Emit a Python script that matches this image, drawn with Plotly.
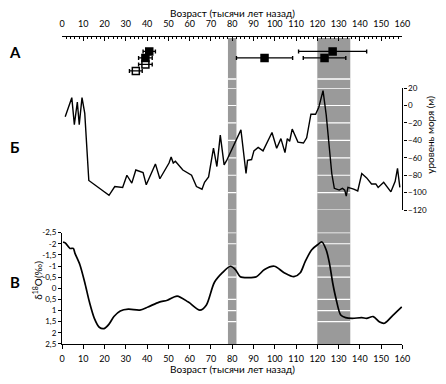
import plotly.graph_objects as go

# ---- data ----
ticks_age = list(range(0, 161, 10))

# Panel A: dated samples (age, half error, row, filled?)
a_age = [41.0, 127.2, 39.2, 95.2, 123.4, 39.2, 34.7]
a_err = [2.9, 16.0, 3.2, 13.2, 10.0, 3.2, 3.0]
a_row = [1, 1, 2, 2, 2, 3, 4]
a_filled = [True, True, True, True, True, False, False]

# Panel B: sea level (m)
sea_age = [1.5, 4.6, 5.8, 7.2, 8.1, 9.4, 10.7, 12.6, 22.1, 24.8, 28.5, 30.5, 32.8, 34.7, 38.1, 39.6,
           43.9, 46, 50.3, 51.3, 52.3, 53.3, 56.8, 60.9, 63.2, 65.8, 67, 68.9, 71.2, 72.8, 74.4, 76.2,
           77.4, 84.1, 86.5, 87.2, 89.1, 90.2, 92.2, 94.5, 98.7, 100.9, 102.9, 104.8, 105.9, 107, 108.2, 110.9,
           113.5, 115, 117, 119.2, 120.7, 122.7, 124.2, 125.7, 126.8, 128, 130.3, 131.8, 132.9, 133.6, 134.4, 137.1,
           139, 140.9, 143.2, 145.5, 147.5, 148.6, 151.2, 154.6, 156.6, 157.7, 158.8]
sea_level = [-13, 9, -22, 4, -22, 9, -9, -86, -103, -93, -94, -80, -89, -74, -77, -91,
             -67, -84, -66, -59, -66, -64, -74, -80, -93, -96, -88, -82, -49, -70, -34, -68,
             -63, -28, -78, -63, -62, -52, -48, -52, -31, -49, -38, -54, -38, -41, -27, -42,
             -43, -37, -10, -10, -2, 17, -11, -49, -78, -95, -97, -95, -97, -104, -94, -96,
             -98, -78, -83, -90, -90, -94, -88, -99, -87, -72, -94]
sea_ticks = list(range(-120, 21, 20))

# Panel V: delta 18O (permil)
d_age = [0.5, 1.5, 3.8, 5.3, 6.1, 8.4, 10.7, 12.9, 15.2, 17.5, 19.8, 22.1, 24.4, 27.4, 31.2, 36.6,
         40.4, 45.7, 49.5, 54.1, 59.4, 64.8, 67.8, 71.6, 75.4, 79.2, 81.5, 83.8, 87.6, 91.4, 95.2, 99.8,
         104.4, 109, 112, 114.3, 117.3, 120.4, 122.2, 124.2, 125.7, 127.2, 128.8, 131, 133.3, 136.4, 140.9, 143.2,
         146.3, 149.3, 151.6, 155.4, 159.7]
d_val = [-2.08, -2.04, -1.79, -1.79, -1.57, -1.06, -0.26, 0.62, 1.35, 1.75, 1.81, 1.61, 1.27, 1.02, 0.94, 0.98,
         0.84, 0.62, 0.54, 0.35, 0.62, 0.98, 0.76, -0.26, -0.7, -0.99, -0.84, -0.52, -0.48, -0.52, -0.84, -0.99,
         -0.7, -0.52, -0.7, -1.2, -1.72, -1.98, -2.08, -1.72, -1.13, -0.26, 0.47, 1.2, 1.32, 1.35, 1.32, 1.35,
         1.27, 1.52, 1.57, 1.23, 0.84]
d_tickvals = [-2.5, -2, -1.5, -1, -0.5, 0, 0.5, 1, 1.5, 2, 2.5]
d_ticktext = ["-2,5", "-2", "-1,5", "-1", "-0,5", "0", "0,5", "1", "1,5", "2", "2,5"]

# Shaded interglacial bands (ka)
bands = [(78, 82), (120, 135.5)]
sea_band_lines = [20, 0, -20, -40, -60, -80, -100, -120]
d_band_lines = [-2.5, -2, -1, -0.5, 0.5, 1, 1.5]

# ---- layout helpers ----
W, H = 446, 384
def px(yp):
    return 1 - yp / H
xdom = [60.5 / W, 409.5 / W]
FONT = "Lato, Open Sans, sans-serif"

fig = go.Figure()

# Panel A
for filled in (True, False):
    idx = [i for i in range(len(a_age)) if a_filled[i] == filled]
    fig.add_trace(go.Scatter(
        x=[a_age[i] for i in idx], y=[a_row[i] for i in idx],
        error_x=dict(type="data", array=[a_err[i] for i in idx], color="black", thickness=1.4, width=2),
        mode="markers",
        marker=dict(symbol="square" if filled else "square-open", size=7, color="black",
                    line=dict(width=1.5, color="black")),
        xaxis="x2", yaxis="y", showlegend=False, hoverinfo="skip"))

# Panel B
fig.add_trace(go.Scatter(x=sea_age, y=sea_level, mode="lines", line=dict(color="black", width=1.4),
                         xaxis="x", yaxis="y2", showlegend=False))
# Panel V
fig.add_trace(go.Scatter(x=d_age, y=d_val, mode="lines", line=dict(color="black", width=1.7, shape="spline", smoothing=0.8),
                         xaxis="x", yaxis="y3", showlegend=False))

shapes = []
for b0, b1 in bands:
    shapes.append(dict(type="rect", xref="x", yref="paper", x0=b0, x1=b1, y0=px(348), y1=px(34),
                       fillcolor="#9a9a9a", line=dict(width=0), layer="below"))
    shapes.append(dict(type="line", xref="x", yref="paper", x0=b0, x1=b1, y0=px(76), y1=px(76),
                       line=dict(color="white", width=1.5), layer="below"))
    for v in sea_band_lines:
        shapes.append(dict(type="line", xref="x", yref="y2", x0=b0, x1=b1, y0=v, y1=v,
                           line=dict(color="white", width=1.2), layer="below"))
    for v in d_band_lines:
        shapes.append(dict(type="line", xref="x", yref="y3", x0=b0, x1=b1, y0=v, y1=v,
                           line=dict(color="white", width=1.2), layer="below"))

tickfont = dict(family=FONT, size=9, color="black")

def ann(text, xp, yp, size=10, angle=0):
    return dict(text=text, x=xp / W, y=px(yp), xref="paper", yref="paper", showarrow=False,
                xanchor="center", yanchor="middle", textangle=angle,
                font=dict(family=FONT, size=size, color="black"))

annotations = [
    ann("Возраст (тысячи лет назад)", 235, 8),
    ann("Возраст (тысячи лет назад)", 235, 374),
    ann("<b>А</b>", 12, 48, 15),
    ann("<b>Б</b>", 12, 146, 15),
    ann("<b>В</b>", 12, 284, 15),
    ann("уровень моря (м)", 437, 133, 10, -90),
    ann("δ<sup>18</sup>O(‰)", 35, 283, 10, -90),
]

fig.update_layout(
    width=W, height=H, margin=dict(l=0, r=0, t=0, b=0),
    paper_bgcolor="white", plot_bgcolor="rgba(0,0,0,0)",
    font=dict(family=FONT, color="black"),
    shapes=shapes, annotations=annotations, showlegend=False,
    xaxis=dict(domain=xdom, range=[0, 160], anchor="y3", tickvals=ticks_age, ticks="outside", ticklen=4,
               tickcolor="black", showline=True, linecolor="black", linewidth=1.2, showgrid=False,
               zeroline=False, tickfont=tickfont, ticklabelstandoff=2),
    xaxis2=dict(domain=xdom, range=[0, 160], anchor="y", side="top", tickvals=ticks_age, ticks="inside",
                ticklen=4, tickcolor="black", showline=True, linecolor="black", linewidth=1.2, showgrid=False,
                zeroline=False, tickfont=tickfont, ticklabelstandoff=5,
                minor=dict(dtick=2, ticklen=2, ticks="inside", tickcolor="black", showgrid=False)),
    yaxis=dict(domain=[px(75), px(33)], range=[5.1, -1.2], visible=False, anchor="x2"),
    yaxis2=dict(domain=[px(210.6), px(85.3)], range=[-120, 20], anchor="x", side="right",
                tickvals=sea_ticks, ticks="outside", ticklen=3, tickcolor="black", showline=True,
                linecolor="black", linewidth=1.2, showgrid=False, zeroline=False,
                tickfont=dict(family=FONT, size=8, color="black")),
    yaxis3=dict(domain=[px(348), px(233.7)], range=[2.5, -2.5], anchor="x", side="left",
                tickvals=d_tickvals, ticktext=d_ticktext, ticks="outside", ticklen=3, tickcolor="black",
                showline=True, linecolor="black", linewidth=1.2, showgrid=False, zeroline=False,
                tickfont=dict(family=FONT, size=8, color="black")),
)

fig.write_html("out.html", config={"displayModeBar": False},
               post_script="document.body.style.margin='0';document.body.style.overflow='hidden';")
